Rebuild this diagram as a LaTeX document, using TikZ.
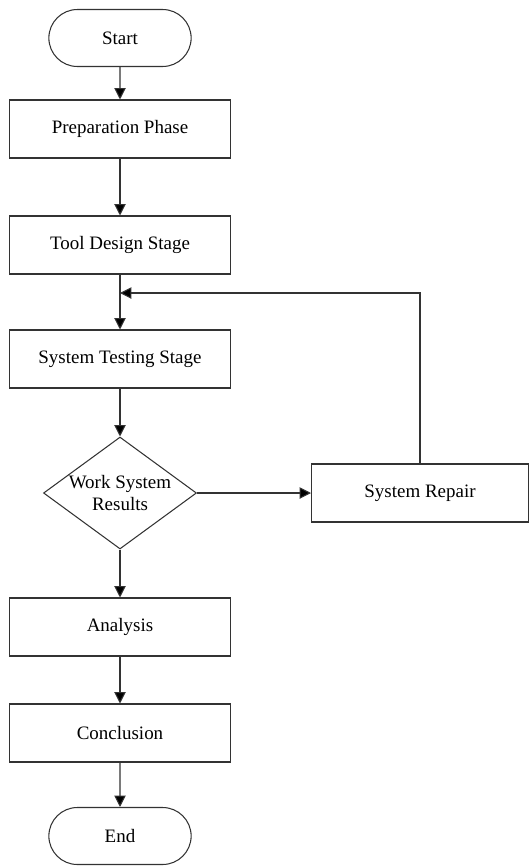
\documentclass[tikz,border=0pt]{standalone}
\usepackage{fontspec}
\setmainfont{Liberation Serif}
\usetikzlibrary{arrows.meta,shapes.geometric,shapes.misc}
\tikzset{
  stepbox/.style={draw=black!80,line width=0.6pt,minimum width=4.42cm,minimum height=1.16cm,inner sep=2pt},
  term/.style={draw=black!80,line width=0.6pt,rounded rectangle,minimum width=3.08cm,minimum height=1.14cm},
  decide/.style={draw=black!80,line width=0.6pt,diamond,aspect=1.4,minimum width=3.06cm,minimum height=2.24cm,inner sep=0pt,align=center},
  flow/.style={draw=black!80,line width=0.6pt,-{Triangle[length=6.5pt,width=6.5pt,fill=black]}}
}
\begin{document}
\begin{tikzpicture}[x=0.02cm,y=-0.02cm,font=\fontsize{10.8}{12}\selectfont]
			\useasboundingbox (0,0) rectangle (530,866);
			\node[term] (start) at (120,38) {Start};
			\node[stepbox] (prep) at (120,129) {Preparation Phase};
			\node[stepbox] (tool) at (120,245) {Tool Design Stage};
			\node[stepbox] (test) at (120,359) {System Testing Stage};
			\node[decide] (work) at (120,493) {Work System\\Results};
			\node[stepbox,minimum width=4.34cm] (repair) at (420,493) {System Repair};
			\node[stepbox] (analysis) at (120,627) {Analysis};
			\node[stepbox] (concl) at (120,733) {Conclusion};
			\node[term] (end) at (120,836) {End};
			\coordinate (join) at (120,293);
			% main line
			\draw[flow] (start) -- (prep);
			\draw[flow] (prep) -- (tool);
			\draw[flow] (tool) -- (test);
			\draw[flow] (test) -- (work);
			\draw[flow] (work) -- (analysis);
			\draw[flow] (analysis) -- (concl);
			\draw[flow] (concl) -- (end);
			% repair loop
			\draw[flow] (work.east) -- (repair.west);
			\draw[flow] (repair.north) |- (join);
			\end{tikzpicture}
\end{document}
